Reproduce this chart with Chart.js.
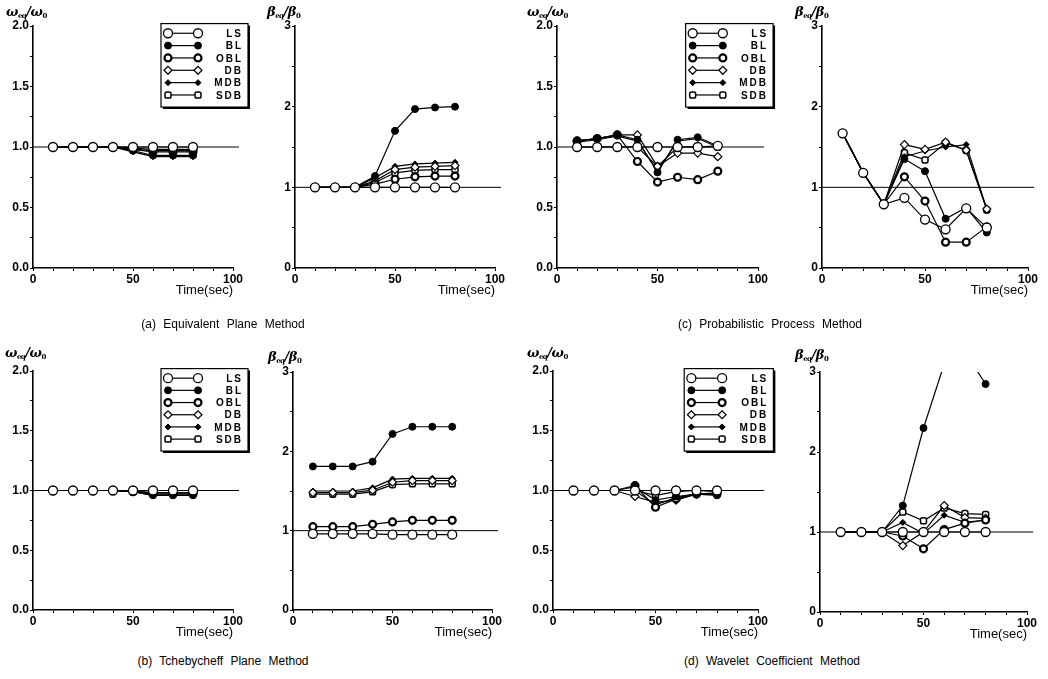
<!DOCTYPE html>
<html>
<head>
<meta charset="utf-8">
<script src="https://cdn.jsdelivr.net/npm/chart.js@4.4.0/dist/chart.umd.min.js"></script>
<style>
body { margin: 0; background: #fff; width: 1048px; height: 679px; overflow: hidden; position: relative; font-family: "Liberation Sans", Arial, sans-serif; }
canvas { position: absolute; }
.ylab { position: absolute; font: italic bold 13px "DejaVu Serif", serif; white-space: nowrap; line-height: 14px; letter-spacing: -0.5px; }
.ylab sub { font-size: 7px; font-style: normal; vertical-align: -2px; line-height: 0; }
.cap { position: absolute; font-size: 12px; word-spacing: 4px; white-space: nowrap; transform: translateX(-50%); }
</style>
</head>
<body>
<script>
// time axis and series
var timeSec = [10, 20, 30, 40, 50, 60, 70, 80];
var seriesNames = ["LS", "BL", "OBL", "DB", "MDB", "SDB"];

// rows follow seriesNames order
var equivFreq = [
    [1, 1, 1, 1, 1, 1, 1, 1],
    [1, 1, 1, 1, 0.97, 0.93, 0.93, 0.93],
    [1, 1, 1, 1, 0.98, 0.96, 0.96, 0.96],
    [1, 1, 1, 1, 0.99, 0.98, 0.98, 0.98],
    [1, 1, 1, 1, 0.96, 0.92, 0.92, 0.92],
    [1, 1, 1, 1, 0.98, 0.97, 0.97, 0.97]
];
var equivDamp = [
    [1, 1, 1, 1, 1, 1, 1, 1],
    [1, 1, 1, 1.14, 1.70, 1.97, 1.99, 2.00],
    [1, 1, 1, 1.04, 1.10, 1.13, 1.14, 1.14],
    [1, 1, 1, 1.08, 1.22, 1.25, 1.26, 1.27],
    [1, 1, 1, 1.12, 1.26, 1.29, 1.30, 1.31],
    [1, 1, 1, 1.06, 1.18, 1.21, 1.22, 1.22]
];
var probFreq = [
    [1, 1, 1, 1, 1, 1, 1, 1.01],
    [1.05, 1.07, 1.10, 1.06, 0.79, 1.06, 1.08, 1.01],
    [1.05, 1.07, 1.10, 0.88, 0.71, 0.75, 0.73, 0.80],
    [1.05, 1.07, 1.10, 1.10, 0.84, 0.95, 0.95, 0.92],
    [1.04, 1.06, 1.09, 1.05, 0.80, 1.05, 1.07, 1.00],
    [1, 1, 1, 1, 0.84, 1, 1, 1]
];
var probDamp = [
    [1.67, 1.18, 0.79, 0.87, 0.60, 0.48, 0.74, 0.50],
    [1.67, 1.18, 0.79, 1.35, 1.20, 0.61, 0.75, 0.44],
    [1.67, 1.18, 0.79, 1.13, 0.83, 0.32, 0.32, 0.51],
    [1.67, 1.18, 0.79, 1.53, 1.47, 1.56, 1.46, 0.73],
    [1.67, 1.18, 0.79, 1.38, 1.45, 1.50, 1.53, 0.73],
    [1.67, 1.18, 0.79, 1.43, 1.34, 1.55, 1.46, 0.72]
];
var tcheFreq = [
    [1, 1, 1, 1, 1, 1, 1, 1],
    [1, 1, 1, 1, 0.99, 0.96, 0.96, 0.96],
    [1, 1, 1, 1, 0.99, 0.97, 0.97, 0.97],
    [1, 1, 1, 1, 1, 0.98, 0.98, 0.98],
    [1, 1, 1, 1, 0.99, 0.96, 0.96, 0.96],
    [1, 1, 1, 1, 0.99, 0.98, 0.98, 0.98]
];
var tcheDamp = [
    [0.96, 0.96, 0.96, 0.96, 0.95, 0.95, 0.95, 0.95],
    [1.81, 1.81, 1.81, 1.87, 2.22, 2.31, 2.31, 2.31],
    [1.05, 1.05, 1.05, 1.08, 1.11, 1.13, 1.13, 1.13],
    [1.48, 1.48, 1.48, 1.51, 1.61, 1.63, 1.63, 1.63],
    [1.50, 1.50, 1.50, 1.54, 1.65, 1.66, 1.66, 1.66],
    [1.46, 1.46, 1.46, 1.49, 1.58, 1.59, 1.59, 1.59]
];
var waveFreq = [
    [1, 1, 1, 1, 1, 1, 1, 1],
    [1, 1, 1, 1.03, 0.92, 0.95, 0.97, 0.96],
    [1, 1, 1, 1.04, 0.86, 0.93, 0.97, 0.97],
    [1, 1, 1, 0.95, 0.90, 0.92, 0.97, 0.98],
    [1, 1, 1, 1.00, 0.88, 0.94, 0.97, 0.97],
    [1, 1, 1, 1.00, 0.96, 0.99, 1.00, 0.99]
];
var waveDamp = [
    [1, 1, 1, 1, 1, 1, 1, 1],
    [1, 1, 1, 1.33, 2.30, 3.10, 3.25, 2.85],
    [1, 1, 1, 0.95, 0.79, 1.03, 1.11, 1.15],
    [1, 1, 1, 0.83, 1.00, 1.33, 1.18, 1.17],
    [1, 1, 1, 1.12, 0.98, 1.21, 1.12, 1.15],
    [1, 1, 1, 1.25, 1.14, 1.30, 1.23, 1.22]
];

// reference level line (ratio = 1) and its time span
var refLevel = 1;
var refSpan = [0, 103];

// tick labels
var timeTicks = [0, 50, 100];
var freqTicks = [0, 0.5, 1, 1.5, 2];
var freqTickLabels = ["0.0", "0.5", "1.0", "1.5", "2.0"];
var dampTicks = [0, 1, 2, 3];
var dampTickLabels = ["0", "1", "2", "3"];

var captions = [
    "(a)  Equivalent  Plane  Method",
    "(b)  Tchebycheff  Plane  Method",
    "(c)  Probabilistic  Process  Method",
    "(d)  Wavelet  Coefficient  Method"
];

// marker look for each series
var markers = [
    { style: "circle", r: 4.5, fill: "#fff", bw: 1.3 },
    { style: "circle", r: 3.5, fill: "#000", bw: 1 },
    { style: "circle", r: 3.5, fill: "#fff", bw: 2.2 },
    { style: "rectRot", r: 4, fill: "#fff", bw: 1.2 },
    { style: "rectRot", r: 3, fill: "#000", bw: 1 },
    { style: "rectRounded", r: 3.5, fill: "#fff", bw: 1.5 }
];

// legend box drawn in data units of the frequency panels
var boxLegend = {
    id: "boxLegend",
    afterDraw(chart, args, opts) {
        if (!opts.show) return;
        var ctx = chart.ctx, x = chart.scales.x, y = chart.scales.y;
        var L = x.getPixelForValue(64), R = x.getPixelForValue(107.5);
        var T = y.getPixelForValue(2.02), B = y.getPixelForValue(1.33);
        ctx.save();
        ctx.fillStyle = "#fff";
        ctx.fillRect(L, T, R - L, B - T);
        ctx.strokeStyle = "#000";
        ctx.lineWidth = 1.2;
        ctx.strokeRect(L, T, R - L, B - T);
        ctx.lineWidth = 2;
        ctx.beginPath();
        ctx.moveTo(R + 1, T + 2); ctx.lineTo(R + 1, B + 1); ctx.lineTo(L + 2, B + 1);
        ctx.stroke();
        var row = 0;
        chart.data.datasets.forEach(function (ds) {
            if (!ds.label) return;
            var yy = y.getPixelForValue(1.94 - row * 0.102);
            var a = x.getPixelForValue(67.5), b = x.getPixelForValue(82.5);
            ctx.lineWidth = 1.2;
            ctx.strokeStyle = "#000";
            ctx.beginPath(); ctx.moveTo(a, yy); ctx.lineTo(b, yy); ctx.stroke();
            [a, b].forEach(function (px) {
                ctx.fillStyle = ds.pointBackgroundColor;
                ctx.strokeStyle = "#000";
                ctx.lineWidth = ds.pointBorderWidth;
                Chart.helpers.drawPoint(ctx, { pointStyle: ds.pointStyle, radius: ds.pointRadius, borderWidth: ds.pointBorderWidth, rotation: 0 }, px, yy);
            });
            ctx.fillStyle = "#000";
            ctx.font = "bold 10px 'Liberation Sans', Arial, sans-serif";
            ctx.letterSpacing = "2px";
            ctx.textAlign = "right";
            ctx.textBaseline = "middle";
            ctx.fillText(ds.label, x.getPixelForValue(105), yy + 1);
            ctx.letterSpacing = "0px";
            row++;
        });
        ctx.restore();
    }
};

var panels = [
    { data: equivFreq, kind: "freq", x0: 33, x1: 233, yTop: 26, yBot: 268, time: true, labX: 6, labY: 5 },
    { data: equivDamp, kind: "damp", x0: 295, x1: 495, yTop: 26, yBot: 268, time: true, labX: 267, labY: 5 },
    { data: probFreq, kind: "freq", x0: 557, x1: 758, yTop: 26, yBot: 268, time: false, labX: 527, labY: 5 },
    { data: probDamp, kind: "damp", x0: 822, x1: 1028, yTop: 26, yBot: 268, time: true, labX: 795, labY: 5 },
    { data: tcheFreq, kind: "freq", x0: 33, x1: 233, yTop: 371, yBot: 610, time: true, labX: 5, labY: 346 },
    { data: tcheDamp, kind: "damp", x0: 293, x1: 492, yTop: 372, yBot: 610, time: true, labX: 268, labY: 350 },
    { data: waveFreq, kind: "freq", x0: 553, x1: 758, yTop: 371, yBot: 610, time: true, labX: 527, labY: 346 },
    { data: waveDamp, kind: "damp", x0: 820, x1: 1027, yTop: 372, yBot: 612, time: true, labX: 795, labY: 348 }
];

var captionPos = [[223, 317], [223, 654], [770, 317], [772, 654]];

var tickFont = { family: "'Liberation Sans', Arial, sans-serif", size: 12, weight: "bold" };

function makeChart(p) {
    var padL = 34, padT = 12, padR = 44, axisH = 32;
    var w = (p.x1 - p.x0) + padL + padR;
    var h = (p.yBot - p.yTop) + padT + axisH;
    var cv = document.createElement("canvas");
    cv.width = w; cv.height = h;
    cv.style.left = (p.x0 - padL) + "px";
    cv.style.top = (p.yTop - padT) + "px";
    cv.style.width = w + "px"; cv.style.height = h + "px";
    document.body.appendChild(cv);

    var isFreq = p.kind === "freq";
    var datasets = p.data.map(function (vals, s) {
        var m = markers[s];
        return {
            label: seriesNames[s],
            data: timeSec.map(function (t, i) { return { x: t, y: vals[i] }; }),
            borderColor: "#000",
            borderWidth: 1.2,
            tension: 0,
            pointStyle: m.style,
            pointRadius: m.r,
            pointBackgroundColor: m.fill,
            pointBorderColor: "#000",
            pointBorderWidth: m.bw
        };
    });
    datasets.push({
        label: "",
        data: refSpan.map(function (t) { return { x: t, y: refLevel }; }),
        borderColor: "#000",
        borderWidth: 1,
        pointRadius: 0,
        clip: false
    });

    new Chart(cv.getContext("2d"), {
        type: "line",
        data: { datasets: datasets },
        options: {
            responsive: false,
            animation: false,
            devicePixelRatio: 1,
            layout: { autoPadding: false, padding: { left: 0, top: padT, right: padR, bottom: 0 } },
            plugins: {
                legend: { display: false },
                tooltip: { enabled: false },
                boxLegend: { show: isFreq }
            },
            scales: {
                x: {
                    type: "linear", min: 0, max: 100,
                    afterFit: function (s) { s.height = axisH; },
                    border: { display: true, color: "#000", width: 1.6 },
                    grid: { drawOnChartArea: false, tickLength: 3, color: "#000" },
                    ticks: {
                        stepSize: 10, autoSkip: false, maxRotation: 0, padding: 1,
                        color: "#000", font: tickFont,
                        callback: function (v) { return timeTicks.indexOf(v) >= 0 ? String(v) : ""; }
                    },
                    title: {
                        display: p.time, text: "Time(sec)", align: "end", color: "#000",
                        font: { family: "'Liberation Sans', Arial, sans-serif", size: 13 },
                        padding: { top: 0, bottom: 2 }
                    }
                },
                y: {
                    min: 0, max: isFreq ? 2 : 3,
                    afterFit: function (s) { s.width = padL; },
                    border: { display: true, color: "#000", width: 1.6 },
                    grid: { drawOnChartArea: false, tickLength: 3, color: "#000" },
                    ticks: {
                        stepSize: isFreq ? 0.25 : 0.5, autoSkip: false, padding: 1,
                        color: "#000", font: tickFont,
                        callback: function (v) {
                            var list = isFreq ? freqTicks : dampTicks;
                            var labels = isFreq ? freqTickLabels : dampTickLabels;
                            for (var i = 0; i < list.length; i++) {
                                if (Math.abs(list[i] - v) < 1e-6) return labels[i];
                            }
                            return "";
                        }
                    }
                }
            }
        },
        plugins: [boxLegend]
    });

    var lab = document.createElement("div");
    lab.className = "ylab";
    lab.style.left = p.labX + "px";
    lab.style.top = p.labY + "px";
    lab.innerHTML = isFreq ? "ω<sub>eq</sub>/ω<sub>0</sub>" : "β<sub>eq</sub>/β<sub>0</sub>";
    document.body.appendChild(lab);
}

panels.forEach(makeChart);

captions.forEach(function (c, i) {
    var d = document.createElement("div");
    d.className = "cap";
    d.textContent = c;
    d.style.left = captionPos[i][0] + "px";
    d.style.top = captionPos[i][1] + "px";
    document.body.appendChild(d);
});
</script>
</body>
</html>
